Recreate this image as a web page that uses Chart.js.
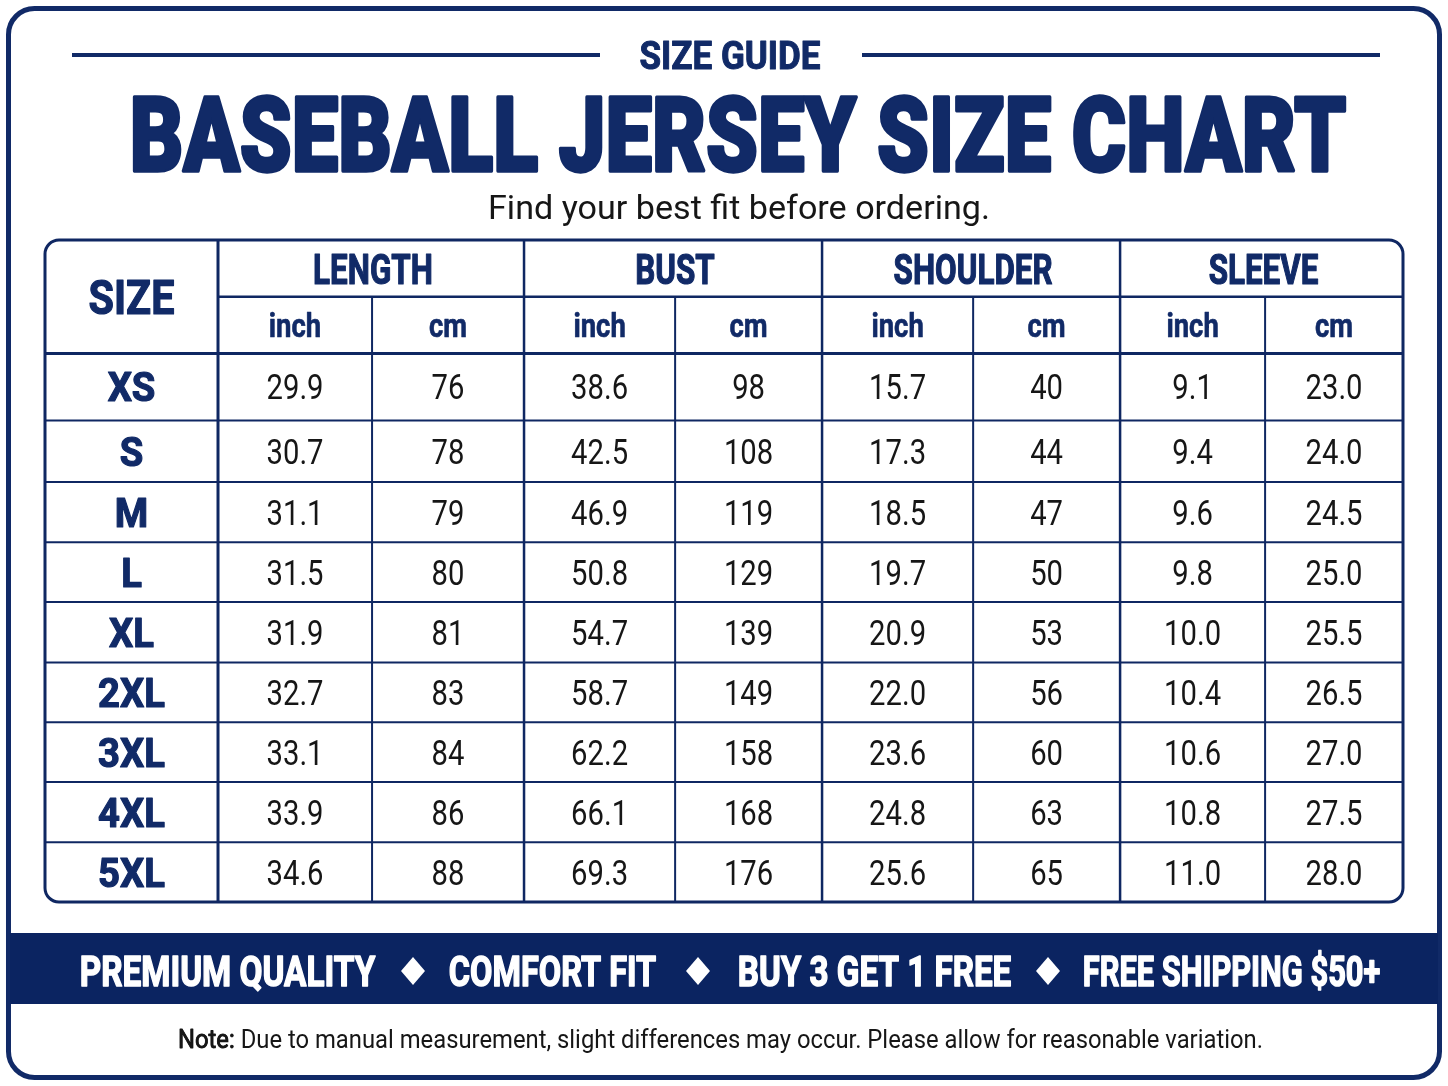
<!DOCTYPE html>
<html>
<head>
<meta charset="utf-8">
<script src="https://cdn.jsdelivr.net/npm/chart.js@4/dist/chart.umd.min.js"></script>
<style>
html,body{margin:0;padding:0;background:#ffffff;}
#wrap{position:relative;width:1448px;height:1086px;}
</style>
</head>
<body>
<div id="wrap"><canvas id="c"></canvas></div>
<script>
// ---- data ----
const sizes = ['XS','S','M','L','XL','2XL','3XL','4XL','5XL'];
const groups = ['LENGTH','BUST','SHOULDER','SLEEVE'];
const units = ['inch','cm'];
const lengthInch = [29.9,30.7,31.1,31.5,31.9,32.7,33.1,33.9,34.6];
const lengthCm = [76,78,79,80,81,83,84,86,88];
const bustInch = [38.6,42.5,46.9,50.8,54.7,58.7,62.2,66.1,69.3];
const bustCm = [98,108,119,129,139,149,158,168,176];
const shoulderInch = [15.7,17.3,18.5,19.7,20.9,22.0,23.6,24.8,25.6];
const shoulderCm = [40,44,47,50,53,56,60,63,65];
const sleeveInch = [9.1,9.4,9.6,9.8,10.0,10.4,10.6,10.8,11.0];
const sleeveCm = [23.0,24.0,24.5,25.0,25.5,26.5,27.0,27.5,28.0];
const columns = [lengthInch,lengthCm,bustInch,bustCm,shoulderInch,shoulderCm,sleeveInch,sleeveCm];
const decimals = [1,0,1,0,1,0,1,1];
const kicker = 'SIZE GUIDE';
const title = 'BASEBALL JERSEY SIZE CHART';
const subtitle = 'Find your best fit before ordering.';
const perks = ['PREMIUM QUALITY','COMFORT FIT','BUY 3 GET 1 FREE','FREE SHIPPING $50+'];
const note = 'Note: Due to manual measurement, slight differences may occur. Please allow for reasonable variation.';

// ---- layout / styles ----
const NAVY = '#112a67';
const LINE = '#0f2762';
const BAND = '#0b2461';
const INK = '#161616';
const SIZE_COL_W = 1.168;   // width of the SIZE column in column units
const HEAD_H = 0.93;        // height of a header row in row units
const colEdges = [0, 1.040, 2.066, 3.086, 4.078, 5.098, 6.090, 7.069, 8];
const rowEdges = [0, 1.10, 2.11, 3.10, 4.08, 5.07, 6.05, 7.03, 8.02, 9];
const mid = (e, i) => (e[i] + e[i + 1]) / 2;

function drawText(ctx, s, x, y, font, color, sx, align, stroke){
  ctx.save();
  ctx.font = font; ctx.fillStyle = color;
  ctx.textAlign = align || 'center'; ctx.textBaseline = 'alphabetic';
  ctx.translate(x, y); ctx.scale(sx, 1);
  if (stroke) {
    ctx.strokeStyle = color; ctx.lineWidth = stroke; ctx.lineJoin = 'round';
    ctx.strokeText(s, 0, 0);
  }
  ctx.fillText(s, 0, 0);
  ctx.restore();
}
function fitScale(ctx, s, font, w, stroke){
  ctx.save(); ctx.font = font; const m = ctx.measureText(s).width; ctx.restore();
  return (w - (stroke || 0)) / m;
}
function roundRect(ctx, x, y, w, h, r){
  ctx.beginPath();
  ctx.moveTo(x + r, y);
  ctx.lineTo(x + w - r, y); ctx.arcTo(x + w, y, x + w, y + r, r);
  ctx.lineTo(x + w, y + h - r); ctx.arcTo(x + w, y + h, x + w - r, y + h, r);
  ctx.lineTo(x + r, y + h); ctx.arcTo(x, y + h, x, y + h - r, r);
  ctx.lineTo(x, y + r); ctx.arcTo(x, y, x + r, y, r);
  ctx.closePath();
}

// datasets: one per table column, points at cell centres
const datasets = [];
datasets.push({
  label: 'SIZE', labels: sizes, kind: 'size',
  data: sizes.map((s, i) => ({x: -SIZE_COL_W / 2, y: mid(rowEdges, i)})),
  pointRadius: 0
});
columns.forEach((col, c) => {
  datasets.push({
    label: groups[Math.floor(c / 2)] + ' ' + units[c % 2],
    labels: col.map(v => v.toFixed(decimals[c])), kind: 'value',
    data: col.map((v, i) => ({x: mid(colEdges, c), y: mid(rowEdges, i)})),
    pointRadius: 0
  });
});

const tablePlugin = {
  id: 'tablePlugin',
  beforeDraw(chart){
    const ctx = chart.ctx;
    ctx.save();
    ctx.fillStyle = '#ffffff';
    ctx.fillRect(0, 0, chart.width, chart.height);
    // outer frame
    ctx.lineWidth = 5; ctx.strokeStyle = NAVY;
    roundRect(ctx, 8.5, 8.5, 1431, 1069, 26);
    ctx.stroke();
    // banner
    ctx.fillStyle = BAND;
    ctx.fillRect(10, 933, 1428, 71);
    // kicker with rules
    ctx.fillStyle = NAVY;
    ctx.fillRect(72, 53, 528, 4);
    ctx.fillRect(862, 53, 518, 4);
    let f = 'bold 38px Roboto';
    drawText(ctx, kicker, 730, 69, f, NAVY, fitScale(ctx, kicker, f, 182, 1), 'center', 1);
    // title
    f = '900 104px Roboto';
    drawText(ctx, title, 738, 171, f, NAVY, fitScale(ctx, title, f, 1220, 3.5), 'center', 3.5);
    // subtitle
    f = '33px Roboto';
    drawText(ctx, subtitle, 739, 219, f, INK, fitScale(ctx, subtitle, f, 502), 'center');
    // banner perks
    f = 'bold 42px Roboto';
    const perkBox = [[79,376],[448,657],[737,1012],[1082,1381]];
    perks.forEach((p, i) => {
      const b = perkBox[i];
      drawText(ctx, p, (b[0] + b[1]) / 2, 986, f, '#ffffff', fitScale(ctx, p, f, b[1] - b[0], 1.5), 'center', 1.5);
    });
    [413, 698, 1048].forEach(cx => {
      ctx.beginPath();
      ctx.moveTo(cx, 957); ctx.lineTo(cx + 12, 971); ctx.lineTo(cx, 985); ctx.lineTo(cx - 12, 971);
      ctx.closePath(); ctx.fillStyle = '#ffffff'; ctx.fill();
    });
    // note
    f = '25px Roboto';
    const ns = fitScale(ctx, note, f, 1085);
    ctx.font = f;
    drawText(ctx, note, 178, 1048, f, INK, ns, 'left');
    drawText(ctx, 'Note:', 178, 1048, f, INK, ns, 'left', 0.8);
    ctx.restore();
  },
  afterDatasetsDraw(chart){
    const ctx = chart.ctx;
    const xs = chart.scales.x, ys = chart.scales.y;
    const X = v => xs.getPixelForValue(v), Y = v => ys.getPixelForValue(v);
    const L = X(-SIZE_COL_W), R = X(8), T = Y(-2 * HEAD_H), B = Y(9);
    ctx.save();
    ctx.strokeStyle = LINE;
    ctx.lineCap = 'butt';
    function line(x1, y1, x2, y2, w){
      ctx.lineWidth = w; ctx.beginPath(); ctx.moveTo(x1, y1); ctx.lineTo(x2, y2); ctx.stroke();
    }
    for (let r = 1; r < sizes.length; r++) line(L, Y(rowEdges[r]), R, Y(rowEdges[r]), 2);
    line(L, Y(0), R, Y(0), 3);
    line(X(0), Y(-HEAD_H), R, Y(-HEAD_H), 2.5);
    line(X(0), T, X(0), B, 3);
    [2, 4, 6].forEach(c => line(X(colEdges[c]), T, X(colEdges[c]), B, 2.5));
    [1, 3, 5, 7].forEach(c => line(X(colEdges[c]), Y(-HEAD_H), X(colEdges[c]), B, 2));
    ctx.lineWidth = 3;
    roundRect(ctx, L, T, R - L, B - T, 14);
    ctx.stroke();

    // header texts
    let f = 'bold 48px Roboto';
    drawText(ctx, 'SIZE', X(-SIZE_COL_W / 2), Y(-HEAD_H) + 17, f, NAVY, fitScale(ctx, 'SIZE', f, 87, 1.2), 'center', 1.2);
    f = 'bold 42px Roboto';
    const gs = fitScale(ctx, 'LENGTH', f, 121, 1.2);
    groups.forEach((g, i) => drawText(ctx, g, (X(colEdges[2 * i]) + X(colEdges[2 * i + 2])) / 2 + 2, Y(-1.5 * HEAD_H) + 16, f, NAVY, gs, 'center', 1.2));
    f = 'bold 33px Roboto';
    const us = fitScale(ctx, 'inch', f, 53, 0.6);
    for (let c = 0; c < 8; c++) drawText(ctx, units[c % 2], X(mid(colEdges, c)), Y(-0.5 * HEAD_H) + 12, f, NAVY, us, 'center', 0.6);

    // cell texts through dataset elements
    const sizeFont = 'bold 41px Roboto';
    const ss = fitScale(ctx, '2XL', sizeFont, 68, 1.2);
    const valFont = '35px Roboto';
    const vs = fitScale(ctx, '29.9', valFont, 57);
    chart.data.datasets.forEach((ds, di) => {
      const meta = chart.getDatasetMeta(di);
      meta.data.forEach((pt, i) => {
        if (ds.kind === 'size') drawText(ctx, ds.labels[i], pt.x, pt.y + 14.5, sizeFont, NAVY, ss, 'center', 1.2);
        else drawText(ctx, ds.labels[i], pt.x, pt.y + 12.5, valFont, INK, vs, 'center');
      });
    });
    ctx.restore();
  }
};

new Chart(document.getElementById('c'), {
  type: 'scatter',
  data: { datasets },
  options: {
    responsive: true,
    maintainAspectRatio: false,
    animation: false,
    devicePixelRatio: 1,
    layout: { padding: { left: 45, right: 45, top: 240, bottom: 184 } },
    plugins: { legend: { display: false }, tooltip: { enabled: false }, title: { display: false } },
    scales: {
      x: { type: 'linear', min: -SIZE_COL_W, max: 8, display: false },
      y: { type: 'linear', min: -2 * HEAD_H, max: 9, reverse: true, display: false }
    }
  },
  plugins: [tablePlugin]
});
</script>
</body>
</html>
